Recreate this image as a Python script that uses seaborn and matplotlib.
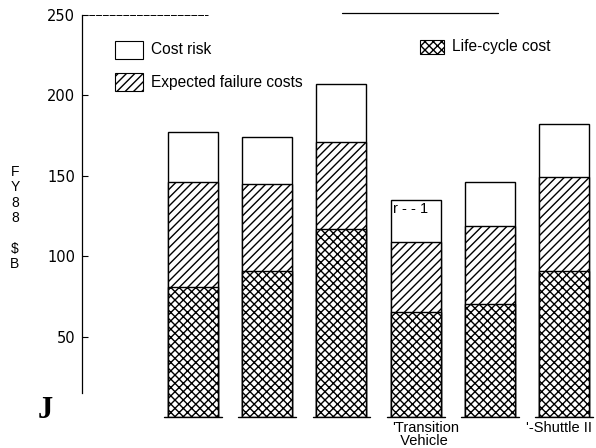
import matplotlib
matplotlib.use("Agg")
import matplotlib.pyplot as plt
import matplotlib.transforms as mtransforms
import seaborn as sns
import pandas as pd
from matplotlib.patches import Rectangle

categories = ["A", "B", "C", "Transition", "E", "Shuttle II"]
tick_labels = ["", "", "", "'Transition\n  Vehicle", "", "'-Shuttle II"]
life_cycle = [81, 91, 117, 65, 70, 91]
expected_failure = [65, 54, 54, 44, 49, 58]
cost_risk = [31, 29, 36, 26, 27, 33]
y_ticks = [50, 100, 150, 200, 250]

df = pd.DataFrame({"cat": categories, "lc": life_cycle,
                   "ef": expected_failure, "cr": cost_risk})
df["lvl2"] = df["lc"] + df["ef"]
df["lvl3"] = df["lvl2"] + df["cr"]

sns.set_theme(style="white")
plt.rcParams["font.family"] = ["Liberation Sans", "DejaVu Sans"]
plt.rcParams["hatch.linewidth"] = 1.0
plt.rcParams["text.color"] = "black"
plt.rcParams["xtick.color"] = "black"
plt.rcParams["ytick.color"] = "black"

fig = plt.figure(figsize=(5.96, 4.48), dpi=100)
ax = fig.add_axes([82 / 596, 31 / 448, 514 / 596, 402 / 448])

common = dict(x="cat", order=categories, width=0.674, edgecolor="black",
              linewidth=1.0, ax=ax)
sns.barplot(data=df, y="lvl3", color="white", **common)
sns.barplot(data=df, y="lvl2", color="white", hatch="////", **common)
sns.barplot(data=df, y="lc", color="white", hatch="xxxx", **common)

ax.set_xlim(-1.496, 5.43)
ax.set_ylim(0, 250)
ax.set_yticks(y_ticks)
ax.set_yticklabels([str(v) for v in y_ticks], fontsize=10.5,
                   family=["DejaVu Sans"])
ax.tick_params(axis="y", direction="in", length=4, width=0.8, pad=5,
               left=True, colors="black")
ax.set_xticks(range(len(categories)))
ax.set_xticklabels(tick_labels, fontsize=10.5, linespacing=0.9)
ax.tick_params(axis="x", length=0, pad=3, colors="black")
shifts_px = [0, 0, 0, -24, 0, -38]
for lbl, dx in zip(ax.get_xticklabels(), shifts_px):
    lbl.set_ha("left")
    lbl.set_va("top")
    lbl.set_transform(lbl.get_transform() +
                      mtransforms.ScaledTranslation(dx / 100, 0,
                                                    fig.dpi_scale_trans))
ax.set_xlabel("")
ax.set_ylabel("")

for s in ["right", "bottom", "top"]:
    ax.spines[s].set_visible(False)
ax.spines["left"].set_color("black")
ax.spines["left"].set_linewidth(0.9)
ax.spines["left"].set_bounds(15, 250)

# partial top rules seen in the scan
ax.plot([-1.496, 0.2], [250, 250], color="black", lw=0.7, clip_on=False,
        linestyle=(0, (6, 1)))
ax.plot([2.01, 4.11], [251.5, 251.5], color="black", lw=0.9, clip_on=False)

# baselines under each bar
for i in range(len(categories)):
    ax.plot([i - 0.39, i + 0.39], [0, 0], color="black", lw=1.0, clip_on=False)

# dashed-top artifact on the transition vehicle bar
ax.text(3 - 0.31, df["lvl3"][3] - 1.0, "r - - 1", fontsize=10.5, va="top",
        ha="left")


def legend_box(x, y, w, h, hatch, label):
    r = Rectangle((x / 596, 1 - (y + h) / 448), w / 596, h / 448,
                  transform=fig.transFigure, facecolor="white",
                  edgecolor="black", hatch=hatch, lw=0.8)
    fig.patches.append(r)
    fig.text((x + w + 8) / 596, 1 - (y + h / 2) / 448, label, fontsize=11.2,
             va="center", ha="left")


legend_box(115, 41, 28, 18, None, "Cost risk")
legend_box(115, 73, 28, 18, "////", "Expected failure costs")
legend_box(420, 40, 24, 14, "xxxx", "Life-cycle cost")

fig.text(15 / 596, 1 - 218 / 448, "F\nY\n8\n8\n\n$\nB", fontsize=10,
         ha="center", va="center", linespacing=1.12)
fig.text(45 / 596, 1 - 410 / 448, "J", fontsize=22, fontweight="bold",
         family=["Liberation Serif", "DejaVu Serif"], ha="center", va="center")

fig.savefig("out.png", dpi=100)
